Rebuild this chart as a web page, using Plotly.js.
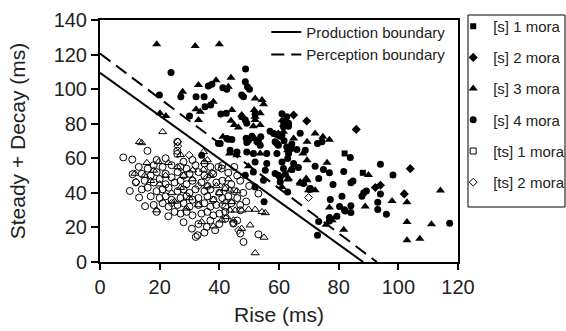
<!DOCTYPE html>
<html><head><meta charset="utf-8">
<script src="https://cdn.plot.ly/plotly-3.0.1.min.js"></script>
<style>html,body{margin:0;padding:0;background:#fff}#chart{width:566px;height:331px}</style>
</head><body><div id="chart"></div>
<script>
// Boundary lines
var prodX = [0, 88.2];
var prodY = [109.5, 0];
var percX = [0, 92.8];
var percY = [120.6, 0];

// [s] 1 mora (filled squares)
var s1 = [[82,62.8],[88.1,51.6]];
// [s] 2 mora (filled diamonds)
var s2 = [[64.9,85],[69.3,81.6],[85.9,76.7],[92.3,43.1],[94,44.4],[102,39.4],[104,54]];
// [s] 3 mora (filled triangles)
var s3 = [[19,126],[31.9,125],[40,126],
[33,102.4],[38.9,105.2],[43.9,106.6],[43,101.4],
[27.7,98.5],[52,94.6],[54.3,93.7],[54.8,91.3],
[20.1,86],[22.1,84.4],[32.2,88.3],[33.6,86.9],[33,82.1],[38,92.7],[44.2,87.9],[47.5,85],
[43.9,81.7],[45,79.2],[46.4,77.8],[51.7,87.9],[53.7,86],[52,82.1],[53.7,79.2],[52,84],
[59.8,74.4],[61.5,75.3],[61,82],[61.5,79.6],[62.1,79.2],
[41.2,72.4],[52,71.1],[51.4,78.6],[51.4,72.4],
[62.9,64.7],[69.4,69.5],[43.4,62.8],[45.9,61.8],[53.7,62.8],[49.8,55.4],[63.8,53.1],[63.2,48.3],[67.1,46.3],[69.4,47.3],[61,43.4],
[72.1,74.4],[74.7,72.4],[76.9,70.7],[64.9,71.5],[68,62.8],[69.4,58.9],[76.1,57.4],[90,50.4],[62.9,47.7],[67.1,45.4],[68.2,45.4],[69.1,48.3],
[114.1,41.3],[72.1,41.5],[69.9,41.5],[97.9,35.3],[102.9,34.5],[76.9,31.5],[88.9,32.1],[78.9,26.1],[77.8,24.2],[75.8,21.5],[81.7,18.6],
[102.9,23.2],[111.1,21.8],[102.9,12.6],[107.2,13.5]];
// [s] 4 mora (filled circles)
var s4 = [[23.8,109.7],[48.8,111.6],
[36.3,101.8],[37.5,102.8],[41.2,100.8],[42.5,99.9],[48.7,104.3],[49.4,101.4],[50.1,99.9],
[27.1,95.6],[19.9,96.6],[32.2,95.6],[34.9,95.6],[47.5,96.6],[48.1,95.6],
[30,84.4],[35.2,89.8],[37.1,90.8],[40.5,85.6],[42.3,86],[52,85.5],[47.5,84],[48.7,82.1],
[61,85.8],[62.6,84],[61.5,81.1],[63.2,80.2],[61.5,78.2],[63.2,78.6],[49.2,80.2],
[57,75.7],[58.2,74.4],[59.3,73.8],[61,73.4],[60.4,72.8],[67.1,74.5],
[43,71],[40.3,68.6],[42.5,71.5],[44.2,70.9],[49.8,70.5],[49.2,69.2],[49,71.6],[50.9,72.8],[53.9,72.4],[53.1,70.5],[52.6,69.5],[53.7,67.6],
[58.7,69.5],[59.8,67.6],[62.6,66.6],[59.3,68.6],[61.7,70.1],[64.3,68.2],[72.9,68.6],[74.4,69.5],
[64.1,65.7],[66,65.1],[68.8,64.7],[43.6,64.7],[45.9,63.7],[49.2,63.7],[51.4,62.8],[55.9,62.8],[59.3,62.8],[63.2,62.8],
[83.9,60.5],[94,56.6],[61,57.9],[62.9,59.9],[52,57.9],[55.9,57],[64.9,57],
[61.5,54.1],[66.5,54.7],[64.3,53.5],[72.1,55.4],[74.9,53.5],[76.9,51.6],[81.7,52.3],[98.2,50.4],
[51.4,52.1],[55.4,53.1],[58.7,51.2],[59.8,50.2],[62.1,50.8],[48.7,50.2],[60.4,48.9],[73.3,48.3],[54.8,47.3],
[60.4,46.3],[68.2,45.4],[78.1,44.9],[84.1,45.8],[84.8,46.9],[52,43.4],[70.5,42.5],
[62.9,40.5],[70.2,41.9],[88.4,40],[89.3,41.1],[87.8,38],[94,39.4],[81.1,38],[77.2,36.1],
[55,34.8],[93.1,34.5],[93.1,30.4],[96,27.6],[80.3,32.1],[82.2,29.5],[84.1,32.5],[84.1,28.7],[81.9,30.2],
[76.9,25.7],[76.9,23.7],[79.4,26.5],[73.3,23.5],[72.9,15.5],[117.2,22.4],
[34.1,61.8],[39.7,68.6]];
// [ts] 1 mora (open squares) - none distinguishable in the picture
var ts1 = [[null,null]];
// [ts] 2 mora (open diamonds)
var ts2 = [[26.1,69.5],[26.1,67],[29.9,61.8],[12.1,46.3],[69.9,37.3],[37.5,51.6],[36,49],[33,44],[41,33],[46.4,18.4],[44.7,22.6],[24,34]];
// [ts] 3 mora (open triangles)
var ts3 = [[13.2,69.5],[14,68.9],[21,75.3],[35,57.9],[34.7,63.7],[11.7,51.2],[15.7,57.4],[19.6,57.9],[22.9,57.4],[31.1,53.1],[34.7,53.5],
[34.1,23.2],[38,20.7],[40.8,24.2],[42.5,26.1],[50.3,21.3],[55,14.2],[52,5.2],
[43.6,29.9],[45.3,29.9],[47.5,29.9],[49.8,30.4],[52,30.4],[54.3,29],[55.4,28.4],
[44.2,34.8],[41.9,42.5],[43.6,41.5],[45.9,41.1],[47.5,19.3],[44.7,24.2],
[20,45],[24,40],[28,50],[17,47],[26,55],[30,37],[36,44],[38,36],[33,33],[22,50],[27,43],[25,35],[19,30],[31,48],[40,40],[15,50],[18,53],[37,50],[29,31],[42,35],[43,48],[36,59],[27,62],[39,44]];
// [ts] 4 mora (open circles)
var ts4 = [[7.8,60.5],[10.8,59.3],[15.9,64.3],[25.9,69.5],[25.9,64.3],[25.9,62.5],[22,60],[28,58],[31,59],[19,59],[35,57],[41,56],
[13,55],[16,54],[18,56],[21,55],[24,56],[27,55],[29,54],[32,56],[37,55],[39.7,55],[40.8,54.1],[45,55],
[10.9,50.8],[14,51],[17,50],[19,52],[22,51],[24,49],[26,52],[28,50],[30,51],[33,52],[35,50],[38,51],[43,51.6],[46,50],
[12,46],[15,47],[18,46],[20,48],[22,45],[25,46],[27,47],[29,45],[31,47],[34,46],[36,44],[39,46],[41,47],[44,45],[47,47],
[10,41.1],[14,42],[16,43],[19,41],[21,42],[23,43],[26,41],[28,42],[30,40],[32,42],[35,41],[37,42],[40,40],[42,43],[45,41],
[13.1,37.3],[17,38],[20,37],[22,38],[24,36],[27,37],[29,38],[31,36],[33,37],[36,38],[38,36],[41,37],[43,38],[46,37],
[15.1,32.3],[18,33],[21,34],[23,32],[26,33],[28,34],[30,32],[33,33],[35,34],[37,32],[39,33],[42,32],[44,34],[47,33],
[19,29],[22.9,26.5],[25,29],[27,28],[29,29],[31,27],[34,28],[36,29],[38,27],[40,28],[42,29],[47,29.9],
[28,23],[30.8,19.3],[33,22],[35.8,20.3],[37,24],[38.6,18.4],[40,22],[42,25],[44.7,22.2],[46,24],
[32.1,14.5],[32.7,15.5],[35,17],[47,16.5],[48.1,11.6],[53.1,16],
[53.1,39.6],[50,44],[48,40],[49,35]];

var FONT = 'Arial, "Liberation Sans", sans-serif';
function col(a,i){return a.map(function(p){return p[i];});}
function pts(arr,name,sym,size,rank,show){
  var open = sym.indexOf('open')>=0;
  return {type:'scatter',mode:'markers',x:col(arr,0),y:col(arr,1),name:name,
    legend:'legend2',legendgroup:'g'+rank,legendrank:rank,showlegend:show,
    marker:{symbol:sym,size:size,color:'#000',line:{color:'#000',width:open?1:0}}};
}
var traces = [
  {type:'scatter',mode:'lines',x:prodX,y:prodY,name:'Production boundary',legend:'legend',legendrank:1,line:{color:'#000',width:2}},
  {type:'scatter',mode:'lines',x:percX,y:percY,name:'Perception boundary',legend:'legend',legendrank:2,line:{color:'#000',width:2,dash:'13px,7px'}},
  pts(ts4,'[ts] 4 mora','circle-open',7,8,false),
  pts(ts3,'[ts] 3 mora','triangle-up-open',7,7,false),
  pts(ts2,'[ts] 2 mora','diamond-open',6,6,true),
  pts(ts1,'[ts] 1 mora','square-open',6,5,true),
  pts(s1,'[s] 1 mora','square',6,1,true),
  pts(s2,'[s] 2 mora','diamond',7,2,true),
  pts(s3,'[s] 3 mora','triangle-up',8,3,true),
  pts(s4,'[s] 4 mora','circle',7,4,true)
];
var layout = {
  width:566,height:331,
  margin:{l:100,r:108,t:20,b:69,autoexpand:false},
  paper_bgcolor:'#fff',plot_bgcolor:'#fff',
  font:{family:FONT,color:'#000'},
  showlegend:true,
  xaxis:{range:[0,120],tick0:0,dtick:20,ticks:'outside',ticklen:6,tickwidth:2,tickcolor:'#000',
    showline:true,linewidth:2,linecolor:'#000',mirror:true,showgrid:false,zeroline:false,
    tickfont:{size:20,color:'#222'},title:{text:'Rise (ms)',font:{size:21,color:'#222'},standoff:10}},
  yaxis:{range:[0,140],tick0:0,dtick:20,ticks:'outside',ticklen:7,tickwidth:2,tickcolor:'#000',
    showline:true,linewidth:2,linecolor:'#000',mirror:true,showgrid:false,zeroline:false,
    tickfont:{size:20,color:'#222'},title:{text:'Steady + Decay (ms)',font:{size:21,color:'#222'},standoff:22}},
  xaxis2:{overlaying:'x',anchor:'y',side:'bottom',range:[0,120],tick0:0,dtick:20,ticks:'inside',ticklen:6,tickwidth:2,tickcolor:'#000',
    showticklabels:false,showgrid:false,zeroline:false,showline:false},
  yaxis2:{overlaying:'y',anchor:'x',side:'left',range:[0,140],tick0:0,dtick:20,ticks:'inside',ticklen:6,tickwidth:2,tickcolor:'#000',
    showticklabels:false,showgrid:false,zeroline:false,showline:false},
  legend:{x:0.4645,y:1.018,xanchor:'left',yanchor:'top',bgcolor:'rgba(0,0,0,0)',borderwidth:0,font:{size:15,color:'#222'}},
  legend2:{x:0.9866,y:0.651,xanchor:'left',yanchor:'middle',bgcolor:'rgba(0,0,0,0)',borderwidth:0,
    font:{size:15,color:'#222'},traceorder:'grouped',tracegroupgap:8.7},
  shapes:[{type:'rect',xref:'paper',yref:'paper',x0:1.0279,x1:1.2989,y0:0.2273,y1:1.0207,
    line:{color:'#000',width:1},fillcolor:'rgba(0,0,0,0)'}]
};
Plotly.newPlot('chart',traces,layout,{staticPlot:true,displayModeBar:false});
</script></body></html>
